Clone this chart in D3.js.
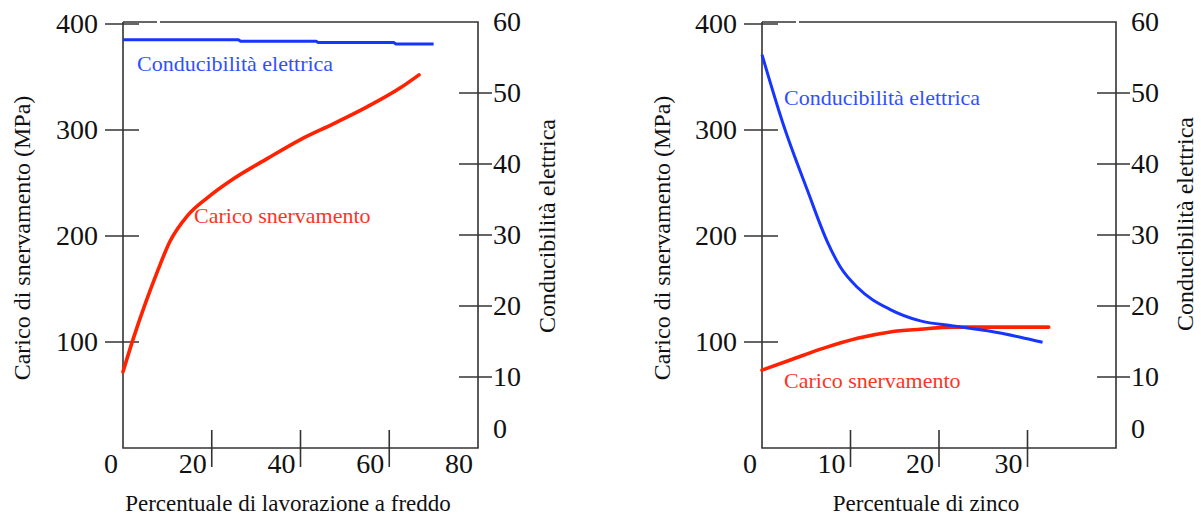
<!DOCTYPE html>
<html>
<head>
<meta charset="utf-8">
<script src="https://cdn.jsdelivr.net/npm/d3@7"></script>
<style>
  html, body { margin: 0; padding: 0; background: #fff; }
  svg { display: block; }
  text { font-family: "Liberation Serif", "Times New Roman", serif; }
</style>
</head>
<body>
<svg id="chart" width="1201" height="517"></svg>
<script>
// ---------- DATA ----------
// Left panel: cold work (%) vs yield strength (MPa) and conductivity
const coldWorkPct      = [0, 2.3, 5, 7.7, 10.6, 14.5, 19, 24.9, 32.5, 40, 47.5, 55.1, 62.6, 66.7];
const coldWorkYieldMPa = [72, 103, 136, 166, 195, 219, 236, 254, 273, 291, 306, 322, 340, 352];
const coldWorkCondX    = [0, 26, 26.5, 43.5, 44, 61, 61.5, 70];
const coldWorkCond     = [57.5, 57.5, 57.3, 57.3, 57.1, 57.1, 56.9, 56.9];

// Right panel: zinc (%) vs yield strength (MPa) and conductivity
const zincPct       = [0, 3.2, 6.9, 10.8, 14.5, 17.9, 21.6, 32.4];
const zincYieldMPa  = [73.5, 83, 94, 103.5, 109.5, 112, 114, 114];
const zincCondX     = [0, 2.4, 5.1, 7.4, 8.8, 10.8, 14.5, 17.9, 21.6, 25.5, 29.2, 31.7];
const zincCond      = [55.4, 45.6, 36.4, 29, 25.6, 22.6, 19.5, 17.9, 17.2, 16.5, 15.6, 14.9];

// Tick labels
const coldWorkTicks = [0, 20, 40, 60, 80];
const zincTicks     = [0, 10, 20, 30];
const mpaTicks      = [100, 200, 300, 400];
const condTicks     = [0, 10, 20, 30, 40, 50, 60];

// Texts
const yTitleLeft   = "Carico di snervamento (MPa)";
const yTitleRight  = "Conducibilità elettrica";
const xTitleCold   = "Percentuale di lavorazione a freddo";
const xTitleZinc   = "Percentuale di zinco";
const seriesCond   = "Conducibilità elettrica";
const seriesYield  = "Carico snervamento";

// ---------- DRAWING ----------
const svg = d3.select("#chart");
const AXIS = "#333";
const RED = "#ff2200", BLUE = "#1636ff";
const RED_T = "#ff3322", BLUE_T = "#3050ff";

function panel(cfg) {
  const g = svg.append("g");
  const x = d3.scaleLinear().domain(cfg.xDomain).range([cfg.left, cfg.right]);
  const yM = d3.scaleLinear().domain([0, 400]).range([448, 24]);
  const yC = d3.scaleLinear().domain([0, 60]).range([448, 22]);
  const top = 22, bottom = 448;

  // frame (left, bottom, right, top with small gap)
  const fr = g.append("g").attr("stroke", AXIS).attr("stroke-width", 1.6).attr("fill", "none");
  fr.append("path").attr("d", `M${cfg.left},${top}V${bottom}H${cfg.right}V${top}H${cfg.gap + 3}`);
  fr.append("path").attr("d", `M${cfg.left},${top}H${cfg.gap}`);

  // left y ticks (MPa)
  mpaTicks.forEach(v => {
    g.append("line").attr("x1", cfg.left - 18).attr("x2", cfg.left + 16)
      .attr("y1", yM(v)).attr("y2", yM(v)).attr("stroke", AXIS).attr("stroke-width", 1.6);
    g.append("text").attr("x", cfg.left - 25).attr("y", yM(v) + 9)
      .attr("text-anchor", "end").attr("font-size", 28).attr("fill", "#111").text(v);
  });

  // right y ticks (conductivity)
  condTicks.forEach(v => {
    const inner = v > 0 && v < 60;
    if (inner) {
      g.append("line").attr("x1", cfg.right - 19).attr("x2", cfg.right + 14)
        .attr("y1", yC(v)).attr("y2", yC(v)).attr("stroke", AXIS).attr("stroke-width", 1.6);
    }
    g.append("text").attr("x", cfg.right + 15).attr("y", yC(v) + (v === 0 ? -10 : 9))
      .attr("font-size", 28).attr("fill", "#111").text(v);
  });

  // x ticks
  cfg.xTicks.forEach(v => {
    if (v > cfg.xDomain[0] && x(v) < cfg.right - 2) {
      g.append("line").attr("x1", x(v)).attr("x2", x(v)).attr("y1", bottom - 18).attr("y2", bottom + 19)
        .attr("stroke", AXIS).attr("stroke-width", 1.6);
    }
    g.append("text").attr("x", x(v) - 5).attr("y", 473).attr("text-anchor", "end")
      .attr("font-size", 28).attr("fill", "#111").text(v);
  });

  // axis titles
  g.append("text").attr("transform", `translate(${cfg.ltx},${cfg.lty}) rotate(-90)`)
    .attr("text-anchor", "middle").attr("font-size", 24).attr("fill", "#111").text(yTitleLeft);
  g.append("text").attr("transform", `translate(${cfg.rtx},${cfg.rty}) rotate(-90)`)
    .attr("text-anchor", "middle").attr("font-size", 24).attr("fill", "#111").text(yTitleRight);
  g.append("text").attr("x", cfg.xtx).attr("y", 511).attr("text-anchor", "middle")
    .attr("font-size", 23).attr("fill", "#111").text(cfg.xTitle);

  // series
  const yieldLine = d3.line().x(d => x(d[0])).y(d => yM(d[1])).curve(d3.curveMonotoneX);
  const condLine = d3.line().x(d => x(d[0])).y(d => yC(d[1])).curve(cfg.condCurve);
  g.append("path").datum(d3.zip(cfg.yieldX, cfg.yieldY)).attr("d", yieldLine)
    .attr("fill", "none").attr("stroke", RED).attr("stroke-width", 3.6).attr("stroke-linecap", "round");
  g.append("path").datum(d3.zip(cfg.condX, cfg.condY)).attr("d", condLine)
    .attr("fill", "none").attr("stroke", BLUE).attr("stroke-width", 3).attr("stroke-linecap", "butt");

  // series labels
  g.append("text").attr("x", cfg.condLab[0]).attr("y", cfg.condLab[1]).attr("font-size", 22)
    .attr("fill", BLUE_T).text(seriesCond);
  g.append("text").attr("x", cfg.yieldLab[0]).attr("y", cfg.yieldLab[1]).attr("font-size", 22)
    .attr("fill", RED_T).text(seriesYield);
}

panel({
  left: 123, right: 478, xDomain: [0, 80], xTicks: coldWorkTicks, gap: 157,
  yieldX: coldWorkPct, yieldY: coldWorkYieldMPa, condX: coldWorkCondX, condY: coldWorkCond,
  condCurve: d3.curveLinear,
  ltx: 30, lty: 238, rtx: 555, rty: 226, xtx: 288, xTitle: xTitleCold,
  condLab: [137, 71], yieldLab: [194, 223]
});

panel({
  left: 762, right: 1116, xDomain: [0, 40], xTicks: zincTicks, gap: 796,
  yieldX: zincPct, yieldY: zincYieldMPa, condX: zincCondX, condY: zincCond,
  condCurve: d3.curveMonotoneX,
  ltx: 670, lty: 238, rtx: 1193, rty: 224, xtx: 926, xTitle: xTitleZinc,
  condLab: [784, 105], yieldLab: [784, 388]
});
</script>
</body>
</html>
